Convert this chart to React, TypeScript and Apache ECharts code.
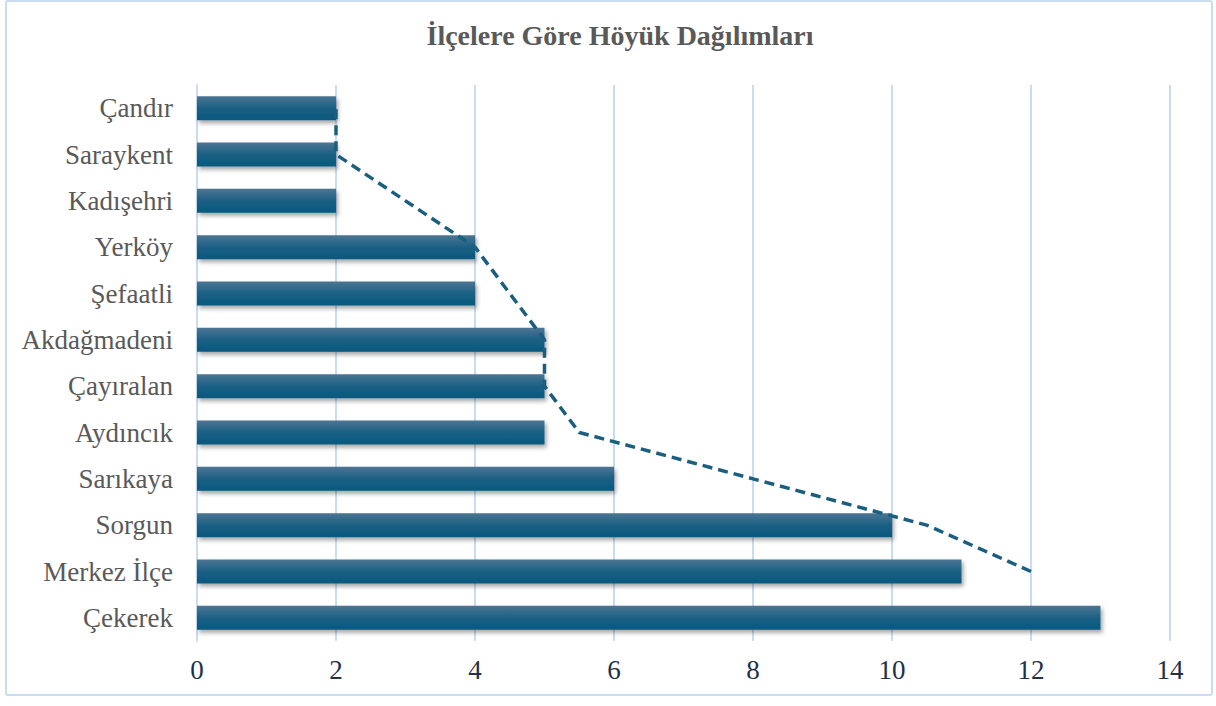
import React, { useEffect, useRef } from "react";
import * as echarts from "echarts";

const categories = [
  "Çekerek",
  "Merkez İlçe",
  "Sorgun",
  "Sarıkaya",
  "Aydıncık",
  "Çayıralan",
  "Akdağmadeni",
  "Şefaatli",
  "Yerköy",
  "Kadışehri",
  "Saraykent",
  "Çandır",
];
const counts = [13, 11, 10, 6, 5, 5, 5, 4, 4, 2, 2, 2];
const trend: (number | string)[] = ["-", 12, 10.5, 8, 5.5, 5, 5, 4.5, 4, 3, 2, 2];

const FONT = "Liberation Serif";

export default function App() {
  const ref = useRef<HTMLDivElement>(null);
  useEffect(() => {
    if (!ref.current) return;
    const chart = echarts.init(ref.current, undefined, { renderer: "svg" });
    chart.setOption({
      animation: false,
      backgroundColor: "#ffffff",
      textStyle: { fontFamily: FONT },
      title: {
        text: "İlçelere Göre Höyük Dağılımları",
        left: 615,
        textAlign: "center",
        top: 16,
        textStyle: { fontFamily: FONT, fontSize: 28, fontWeight: "bold", color: "#595959" },
      },
      graphic: [
        {
          type: "rect",
          shape: { x: 6, y: 1, width: 1206, height: 694, r: 2 },
          style: { fill: "none", stroke: "#c9dcf2", lineWidth: 2 },
          z: -1,
        },
      ],
      grid: { left: 197, right: 46, top: 85, bottom: 65, containLabel: false },
      xAxis: {
        type: "value",
        min: 0,
        max: 14,
        interval: 2,
        axisLine: { show: false },
        axisTick: { show: false },
        splitLine: { show: true, lineStyle: { color: "#c9dcf2", width: 2 } },
        axisLabel: { fontFamily: FONT, fontSize: 27, color: "#1e3148", margin: 15 },
      },
      yAxis: {
        type: "category",
        data: categories,
        axisLine: { show: true, lineStyle: { color: "#c9dcf2", width: 2 } },
        axisTick: { show: false },
        axisLabel: { fontFamily: FONT, fontSize: 27, color: "#595959", margin: 24 },
      },
      series: [
        {
          type: "bar",
          data: counts,
          barWidth: 24,
          itemStyle: {
            color: new echarts.graphic.LinearGradient(0, 0, 0, 1, [
              { offset: 0, color: "#4d7593" },
              { offset: 0.5, color: "#1b6084" },
              { offset: 1, color: "#07587e" },
            ]),
            shadowColor: "rgba(0,0,0,0.35)",
            shadowBlur: 4,
            shadowOffsetX: 2,
            shadowOffsetY: 3,
          },
          z: 2,
        },
        {
          type: "line",
          data: trend,
          symbol: "none",
          lineStyle: { color: "#1a5e80", width: 3.5, type: [10, 6] },
          z: 3,
        },
      ],
    });
    return () => chart.dispose();
  }, []);
  return (
    <div
      ref={ref}
      style={{ position: "fixed", left: 0, top: 0, width: 1216, height: 706 }}
    />
  );
}
